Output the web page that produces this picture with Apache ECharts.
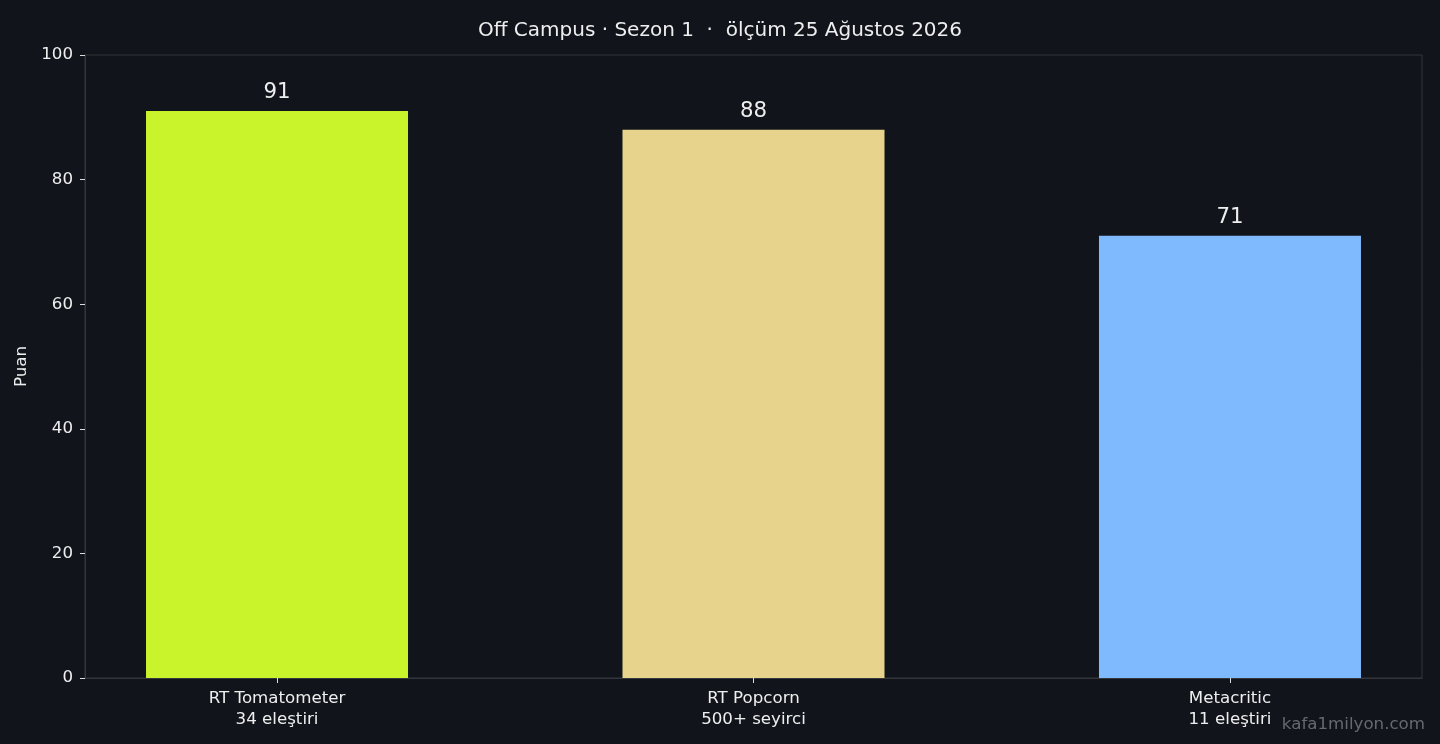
<!DOCTYPE html>
<html><head><meta charset="utf-8">
<script src="https://cdn.jsdelivr.net/npm/echarts@6/dist/echarts.min.js"></script>
<style>html,body{margin:0;padding:0;background:#11141b;}#c{width:1440px;height:744px;}</style>
</head><body><div id="c"></div>
<script>
const categories = ['RT Tomatometer\n34 eleştiri', 'RT Popcorn\n500+ seyirci', 'Metacritic\n11 eleştiri'];
const scores = [91, 88, 71];
const barColors = ['#c9f42b', '#e7d38c', '#7fb9fe'];
const yTicks = [0, 20, 40, 60, 80, 100];
const titleText = 'Off Campus · Sezon 1  ·  ölçüm 25 Ağustos 2026';
const yName = 'Puan';
const watermark = 'kafa1milyon.com';

const font = 'DejaVu Sans';
const positions = categories.map((c, i) => i);
const chart = echarts.init(document.getElementById('c'), null, {renderer: 'canvas'});
chart.setOption({
  backgroundColor: '#11141b',
  animation: false,
  title: {
    text: titleText, left: 'center', top: 16,
    textStyle: {color: '#eeeeee', fontFamily: font, fontSize: 20, fontWeight: 'normal'}
  },
  graphic: [{
    type: 'text', right: 15, bottom: 11,
    style: {text: watermark, fill: '#666a70', font: '16.67px "DejaVu Sans"'}
  }],
  grid: {left: 85, right: 18, top: 55, bottom: 66, show: true, borderColor: '#33363b', borderWidth: 1, containLabel: false},
  xAxis: {
    type: 'value', min: -0.403, max: 2.403,
    splitLine: {show: false},
    axisLine: {show: true, onZero: false, lineStyle: {color: '#33363b'}},
    axisTick: {show: true, customValues: positions, length: 5, lineStyle: {color: '#dddddd'}},
    axisLabel: {customValues: positions, formatter: v => categories[Math.round(v)] || '', color: '#eeeeee', fontFamily: font, fontSize: 16.67, lineHeight: 21, margin: 10}
  },
  yAxis: {
    type: 'value', min: 0, max: 100, interval: 20,
    name: yName, nameLocation: 'middle', nameGap: 47,
    nameTextStyle: {color: '#eeeeee', fontFamily: font, fontSize: 16.67},
    axisLine: {show: true, onZero: false, lineStyle: {color: '#33363b'}},
    axisTick: {show: true, length: 5, lineStyle: {color: '#dddddd'}},
    axisLabel: {color: '#eeeeee', fontFamily: font, fontSize: 16.67, margin: 12, padding: [4, 0, 0, 0]},
    splitLine: {show: false}
  },
  series: [{
    type: 'bar', barWidth: 262,
    data: scores.map((v, i) => ({value: [positions[i], v], itemStyle: {color: barColors[i]}})),
    label: {show: true, position: 'top', distance: 8, color: '#eeeeee', fontFamily: font, fontSize: 21.3, formatter: p => p.value[1]}
  }]
});
</script></body></html>
